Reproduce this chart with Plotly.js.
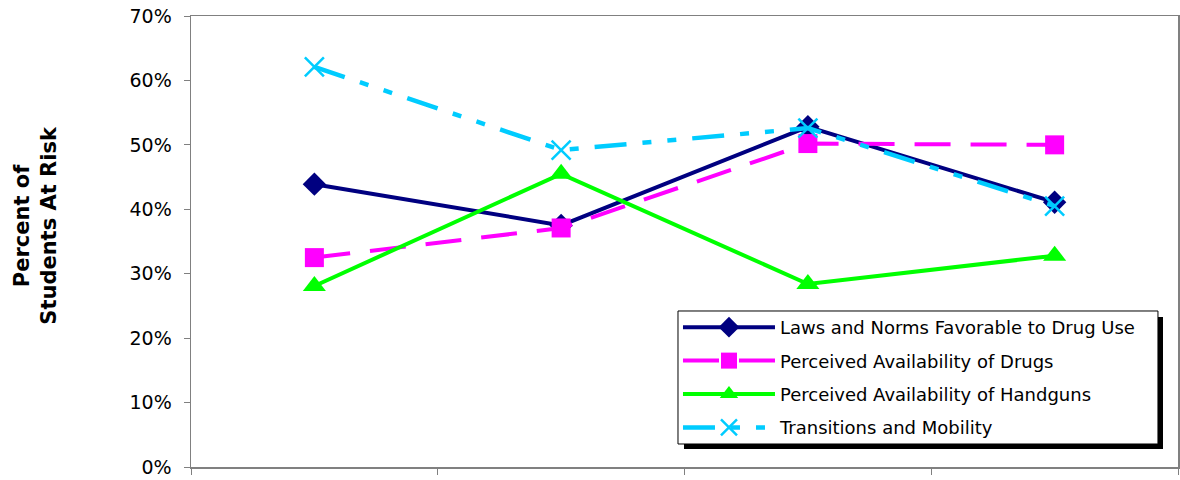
<!DOCTYPE html>
<html><head><meta charset="utf-8">
<script src="https://cdn.plot.ly/plotly-3.0.1.min.js"></script>
<style>html,body{margin:0;padding:0;background:#fff}#chart{width:1180px;height:480px}</style>
</head><body><div id="chart"></div>
<script>
const categories = ["1", "2", "3", "4"];
const seriesNames = [
  "Laws and Norms Favorable to Drug Use",
  "Perceived Availability of Drugs",
  "Perceived Availability of Handguns",
  "Transitions and Mobility"
];
const lawsNorms = [0.439, 0.375, 0.528, 0.411];
const drugAvail = [0.325, 0.371, 0.502, 0.500];
const handgunAvail = [0.281, 0.455, 0.284, 0.328];
const transitions = [0.621, 0.492, 0.526, 0.405];
const yTickVals = [0, 0.1, 0.2, 0.3, 0.4, 0.5, 0.6, 0.7];

const xIdx = categories.map((c, i) => i);
const styles = [
  {color: "#000080", dash: "solid", width: 4, symbol: "diamond", size: 18},
  {color: "#FF00FF", dash: "36px,20px", width: 4, symbol: "square", size: 19},
  {color: "#00FF00", dash: "solid", width: 4, symbol: "triangle-up", size: 20},
  {color: "#00CCFF", dash: "32px,16px,9px,16px,9px,16px", width: 4.5, symbol: "x-thin", size: 19}
];
const values = [lawsNorms, drugAvail, handgunAvail, transitions];
const traces = values.map((v, k) => ({
  type: "scatter", mode: "lines+markers", name: seriesNames[k],
  legendgroup: "g" + k,
  x: xIdx, y: v,
  line: {color: styles[k].color, dash: styles[k].dash, width: styles[k].width},
  marker: {color: styles[k].color, symbol: styles[k].symbol, size: styles[k].size,
           line: {color: styles[k].color, width: k === 3 ? 2.5 : 0}}
}));

const layout = {
  width: 1180, height: 480,
  margin: {l: 191, r: 2, t: 16, b: 13},
  paper_bgcolor: "#fff", plot_bgcolor: "#fff",
  font: {family: "DejaVu Sans, Verdana, sans-serif", color: "#000"},
  showlegend: true,
  xaxis: {
    range: [-0.5, 3.5], tickvals: [-0.5, 0.5, 1.5, 2.5, 3.5], ticktext: ["", "", "", "", ""],
    ticks: "outside", ticklen: 6, tickcolor: "#808080", showgrid: false, zeroline: false,
    showline: true, linecolor: "#808080", linewidth: 1.5, mirror: true, fixedrange: true
  },
  yaxis: {
    range: [0, 0.7], tickvals: yTickVals, tickformat: ".0%",
    ticks: "outside", ticklen: 6, tickcolor: "#808080", showgrid: false, zeroline: false,
    showline: true, linecolor: "#808080", linewidth: 1.5, mirror: true,
    ticklabelstandoff: 8,
    tickfont: {size: 19, family: "DejaVu Sans, Verdana, sans-serif"}, fixedrange: true
  },
  legend: {
    x: 0.4934, y: 0.3503, xanchor: "left", yanchor: "top",
    bgcolor: "rgba(0,0,0,0)", borderwidth: 0,
    font: {size: 18, family: "DejaVu Sans, Verdana, sans-serif"},
    itemwidth: 92, tracegroupgap: 7
  },
  shapes: [
    {type: "rect", xref: "paper", yref: "paper", layer: "above",
     x0: 0.4995, x1: 0.9848, y0: 0.0399, y1: 0.3326,
     fillcolor: "#000", line: {width: 0}},
    {type: "rect", xref: "paper", yref: "paper", layer: "above",
     x0: 0.4934, x1: 0.9797, y0: 0.0510, y1: 0.3459,
     fillcolor: "#fff", line: {color: "#000", width: 1}}
  ],
  annotations: [{
    xref: "paper", yref: "paper", x: -0.185, y: 0.537, showarrow: false,
    text: "<b>Percent of<br>Students At Risk</b>", textangle: -90,
    font: {size: 21, family: "DejaVu Sans, Verdana, sans-serif"}
  }]
};
Plotly.newPlot("chart", traces, layout, {staticPlot: true, displayModeBar: false});
</script></body></html>
